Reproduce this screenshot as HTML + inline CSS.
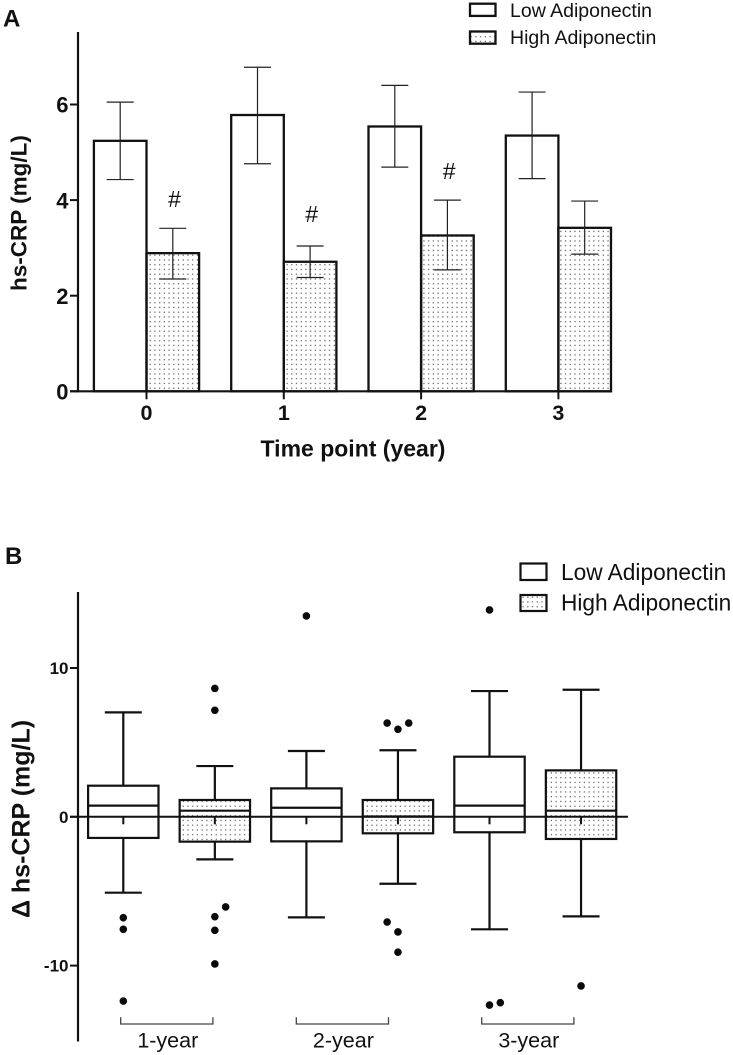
<!DOCTYPE html>
<html>
<head>
<meta charset="utf-8">
<title>hs-CRP by adiponectin group</title>
<style>
html,body{margin:0;padding:0;background:#fff;}
svg{display:block;}
text{font-family:"Liberation Sans",sans-serif;fill:#111;}
.b{font-weight:bold;}
</style>
</head>
<body>
<svg id="fig" width="733" height="1055" viewBox="0 0 733 1055" xmlns="http://www.w3.org/2000/svg">
<defs>
<pattern id="dots" patternUnits="userSpaceOnUse" x="148" y="253" width="4.72" height="4.75">
<rect x="1.6" y="1.6" width="1.2" height="1.2" fill="#555"/>
</pattern>
</defs>
<text class="b" x="3" y="26.5" font-size="24">A</text>
<text class="b" x="5" y="564" font-size="24">B</text>

<g>
<rect x="470" y="3.7" width="25.5" height="12.2" fill="#fff" stroke="#111" stroke-width="2.3"/>
<text x="510" y="16.8" font-size="19.5">Low Adiponectin</text>
<rect x="470" y="31.5" width="25.5" height="12.2" fill="url(#dots)" stroke="#111" stroke-width="2.3"/>
<text x="510" y="44.2" font-size="19.5">High Adiponectin</text>
</g>
<text class="b" transform="translate(26.5,291) rotate(-90)" font-size="22.5">hs-CRP (mg/L)</text>
<text class="b" x="353" y="456.5" text-anchor="middle" font-size="23">Time point (year)</text>

<g>
<rect x="520.5" y="563.5" width="26" height="16.5" fill="#fff" stroke="#111" stroke-width="2.2"/>
<text x="561" y="580" font-size="22.7">Low Adiponectin</text>
<rect x="520.5" y="595" width="26" height="16" fill="url(#dots)" stroke="#111" stroke-width="2.2"/>
<text x="561" y="610.7" font-size="22.7">High Adiponectin</text>
</g>
<text class="b" transform="translate(29.5,918) rotate(-90)" font-size="25">Δ hs-CRP (mg/L)</text>
</svg>
<script>
// Panel A data
var timePoints = ['0', '1', '2', '3'];
var yTicksA = [0, 2, 4, 6];
var lowMean = [5.24, 5.78, 5.54, 5.35];
var lowUpper = [6.05, 6.78, 6.40, 6.26];
var lowLower = [4.43, 4.76, 4.69, 4.45];
var highMean = [2.89, 2.71, 3.26, 3.42];
var highUpper = [3.41, 3.04, 4.00, 3.98];
var highLower = [2.35, 2.38, 2.54, 2.87];
var significant = [true, true, true, false];
var markValues = [4.03, 3.72, 4.62, 0];

// Panel B data: order is low, high for each period
var yTicksB = [10, 0, -10];
var periods = ['1-year', '2-year', '3-year'];
var whiskerHigh = [7.02, 3.41, 4.42, 4.47, 8.45, 8.54];
var boxHigh = [2.09, 1.13, 1.91, 1.13, 4.04, 3.12];
var medians = [0.75, 0.41, 0.61, 0.02, 0.75, 0.41];
var boxLow = [-1.42, -1.67, -1.65, -1.11, -1.04, -1.49];
var whiskerLow = [-5.1, -2.86, -6.76, -4.5, -7.56, -6.69];
var outlierBox = [0, 0, 0, 1, 1, 1, 1, 1, 1, 2, 3, 3, 3, 3, 3, 3, 4, 4, 4, 5];
var outlierVal = [-6.78, -7.56, -12.38, 8.63, 7.16, -6.71, -7.63, -9.89, -6.06, 13.5, 6.3, 5.88, 6.3, -7.07, -7.74, -9.1, 13.9, -12.65, -12.49, -11.37];
var outlierJitter = [0, 0, 0, 0, 0, 0, 0, 0, 1, 0, -1, 0, 1, -1, 0, 0, 0, 0, 1, 0];

var svg = document.getElementById('fig');
var NS = 'http://www.w3.org/2000/svg';
function make(tag, props) {
  var e = document.createElementNS(NS, tag);
  for (var k in props) e.setAttribute(k, props[k]);
  svg.appendChild(e);
  return e;
}
function seg(x1, y1, x2, y2, w, c) {
  return make('line', {x1: x1, y1: y1, x2: x2, y2: y2, 'stroke-width': w, stroke: c || '#111'});
}
var el;

// Panel A scales
function yA(v) { return 391.3 - 47.8 * v; }
function groupA(i) { return 146.5 + 137.3 * i; }
var barW = 52.6;

timePoints.forEach(function (label, i) {
  var c = groupA(i);
  el = make('rect', {x: c - barW, y: yA(lowMean[i]), width: barW, height: yA(0) - yA(lowMean[i]), fill: '#fff', stroke: '#111', 'stroke-width': 2.3});
  
  
  el = make('rect', {x: c, y: yA(highMean[i]), width: barW, height: yA(0) - yA(highMean[i]), fill: 'url(#dots)', stroke: '#111', 'stroke-width': 2.3});
  
  

  [[c - barW / 2, lowUpper[i], lowLower[i], 'low'], [c + barW / 2, highUpper[i], highLower[i], 'high']].forEach(function (s) {
    var x = s[0], up = yA(s[1]), lo = yA(s[2]);
    el = seg(x, up, x, lo, 1.2, '#222');
    
    
    el = seg(x - 13.5, up, x + 13.5, up, 1.2, '#222');
    
    
    el = seg(x - 13.5, lo, x + 13.5, lo, 1.2, '#222');
    
    
  });

  if (significant[i]) {
    el = make('text', {x: c + 28, y: yA(markValues[i]) + 8.5, 'text-anchor': 'middle', 'font-size': 23});
    el.textContent = '#';
    
    
  }

  el = seg(c, yA(0), c, yA(0) + 8, 2);
  
  
  el = make('text', {x: c, y: 420, 'text-anchor': 'middle', 'font-size': 21.5, 'class': 'b'});
  el.textContent = label;
  
  
});

el = seg(78, 32, 78, yA(0) + 1, 2.2);


el = seg(70, yA(0), 612, yA(0), 2.2);


yTicksA.forEach(function (t) {
  el = seg(70, yA(t), 78, yA(t), 2);
  
  
  el = make('text', {x: 68.5, y: yA(t) + 8.2, 'text-anchor': 'end', 'font-size': 22, 'class': 'b'});
  el.textContent = t;
  
  
});

// Panel B scales
function yB(v) { return 816.8 - 14.88 * v; }
function boxX(i) { return 123.3 + 91.55 * i; }
var boxHalf = 35.2, capHalf = 18.5;

medians.forEach(function (m, i) {
  var c = boxX(i), kind = i % 2 ? 'high' : 'low', idx = Math.floor(i / 2) + 1;
  var tag = kind + '-' + idx + '-year';
  el = seg(c, yB(whiskerHigh[i]), c, yB(boxHigh[i]), 2.2);
  
  
  el = seg(c - capHalf, yB(whiskerHigh[i]), c + capHalf, yB(whiskerHigh[i]), 2.2);
  
  
  el = seg(c, yB(boxLow[i]), c, yB(whiskerLow[i]), 2.2);
  
  
  el = seg(c - capHalf, yB(whiskerLow[i]), c + capHalf, yB(whiskerLow[i]), 2.2);
  
  
  el = make('rect', {x: c - boxHalf, y: yB(boxHigh[i]), width: boxHalf * 2, height: yB(boxLow[i]) - yB(boxHigh[i]), fill: i % 2 ? 'url(#dots)' : '#fff', stroke: '#111', 'stroke-width': 2.2});
  
  
  el = seg(c - boxHalf, yB(m), c + boxHalf, yB(m), 2.2);
  
  
  el = seg(c, yB(0), c, yB(0) + 7.5, 2);
  
  
});

outlierVal.forEach(function (v, i) {
  el = make('circle', {cx: boxX(outlierBox[i]) + outlierJitter[i] * 10.8, cy: yB(v), r: 3.8, fill: '#0a0a0a'});
  
  
});

el = seg(78, 592, 78, 1041.5, 2.2);


el = seg(70, yB(0), 628, yB(0), 2);


yTicksB.forEach(function (t) {
  el = seg(70, yB(t), 78, yB(t), 2);
  
  
  el = make('text', {x: 68.5, y: yB(t) + 6, 'text-anchor': 'end', 'font-size': 17, 'class': 'b'});
  el.textContent = t;
  
  
});

// Bracket annotations: hand-placed in the source figure, slightly off the box centres
function bracketLeft(i) { return i === 0 ? 120.7 : i === 1 ? 296.3 : 481.7; }
periods.forEach(function (p, i) {
  var x0 = bracketLeft(i), x1 = x0 + 92.2;
  el = make('polyline', {points: x0 + ',1017.3 ' + x0 + ',1024 ' + x1 + ',1024 ' + x1 + ',1017.3', fill: 'none', stroke: '#444', 'stroke-width': 1.3});
  
  
  el = make('text', {x: (x0 + x1) / 2 + 1, y: 1047.5, 'text-anchor': 'middle', 'font-size': 21.5});
  el.textContent = p;
  
  
});
</script>
</body>
</html>
